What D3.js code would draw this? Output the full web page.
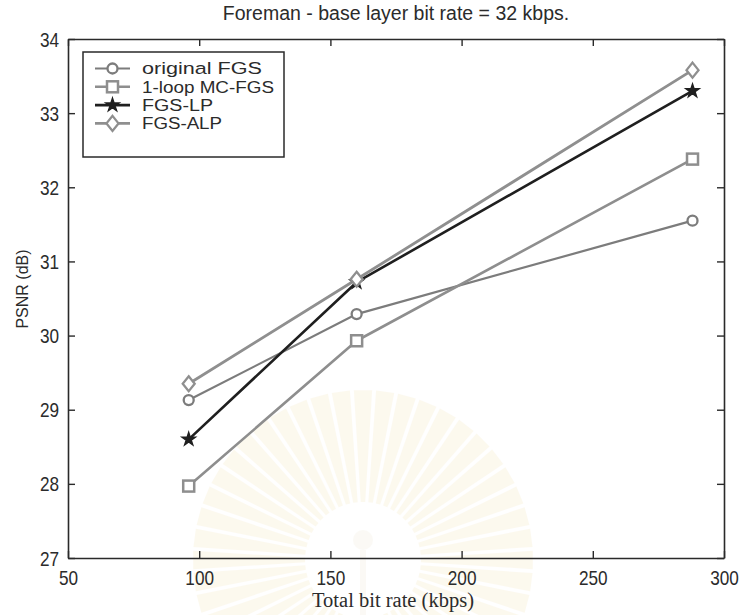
<!DOCTYPE html>
<html>
<head>
<meta charset="utf-8">
<script src="https://cdn.jsdelivr.net/npm/d3@7"></script>
<style>
  html, body { margin: 0; padding: 0; background: #fff; }
  svg { display: block; }
</style>
</head>
<body>
<svg id="chart" width="744" height="615"></svg>
<script>
// Total bit rate (kbps) at each operating point
const bitRates = [96, 160, 288];

// PSNR (dB) per scheme
const originalFGS = [29.13, 30.29, 31.55];
const mcFGS       = [27.97, 29.93, 32.38];
const fgsLP       = [28.60, 30.72, 33.30];
const fgsALP      = [29.35, 30.76, 33.58];

const seriesNames = ["original FGS", "1-loop MC-FGS", "FGS-LP", "FGS-ALP"];

const xTicks = [50, 100, 150, 200, 250, 300];
const yTicks = [27, 28, 29, 30, 31, 32, 33, 34];

const titleText = "Foreman - base layer bit rate = 32 kbps.";
const xLabel = "Total bit rate (kbps)";
const yLabel = "PSNR (dB)";

const series = [
  { name: seriesNames[0], values: originalFGS, color: "#7c7c7c", width: 2.2, marker: "circle" },
  { name: seriesNames[1], values: mcFGS,       color: "#8e8e8e", width: 2.6, marker: "square" },
  { name: seriesNames[2], values: fgsLP,       color: "#1f1f1f", width: 2.6, marker: "star" },
  { name: seriesNames[3], values: fgsALP,      color: "#8f8f8f", width: 2.8, marker: "diamond" }
];

const sans = "'Liberation Sans', Arial, sans-serif";
const textColor = "#2b2b2b";

const svg = d3.select("#chart");
const W = 744, H = 615;
const margin = { left: 68, right: 20, top: 39, bottom: 57 };
const plotL = margin.left, plotR = W - margin.right, plotT = margin.top, plotB = H - margin.bottom;

const x = d3.scaleLinear().domain([50, 300]).range([plotL, plotR]);
const y = d3.scaleLinear().domain([27, 34]).range([plotB, plotT]);

// faint emblem in the background
const emb = svg.append("g").attr("transform", "translate(363,560)").attr("opacity", 0.14);
const rays = d3.range(0, 360, 7.5);
emb.selectAll("path.ray").data(rays).join("path")
  .attr("class", "ray")
  .attr("d", d => {
    const a = (d - 90) * Math.PI / 180, w = 2.2 * Math.PI / 180;
    const r0 = 58, r1 = 170;
    return `M${r0*Math.cos(a-w)},${r0*Math.sin(a-w)}L${r1*Math.cos(a-w*1.4)},${r1*Math.sin(a-w*1.4)}L${r1*Math.cos(a+w*1.4)},${r1*Math.sin(a+w*1.4)}L${r0*Math.cos(a+w)},${r0*Math.sin(a+w)}Z`;
  })
  .attr("fill", "#f0d890");
emb.append("circle").attr("cx", 0).attr("cy", -20).attr("r", 10).attr("fill", "#e6dcc0");
emb.append("rect").attr("x", -3).attr("y", -10).attr("width", 6).attr("height", 70).attr("fill", "#e6dcc0");

// plot frame with inward ticks on all four sides
const axisColor = "#2a2a2a";
const tick = 7;
const squeeze = 0.86;

const gx = svg.append("g").attr("transform", `translate(0,${plotB})`)
  .call(d3.axisBottom(x).tickValues(xTicks).tickFormat(d3.format("d")).tickSize(-tick).tickSizeOuter(0).tickPadding(9));
const gxTop = svg.append("g").attr("transform", `translate(0,${plotT})`)
  .call(d3.axisTop(x).tickValues(xTicks).tickSize(-tick).tickSizeOuter(0).tickFormat(""));
const gy = svg.append("g").attr("transform", `translate(${plotL},0)`)
  .call(d3.axisLeft(y).tickValues(yTicks).tickFormat(d3.format("d")).tickSize(-tick).tickSizeOuter(0).tickPadding(9));
const gyR = svg.append("g").attr("transform", `translate(${plotR},0)`)
  .call(d3.axisRight(y).tickValues(yTicks).tickSize(-tick).tickSizeOuter(0).tickFormat(""));

[gx, gxTop, gy, gyR].forEach(g => {
  g.select(".domain").attr("stroke", axisColor).attr("stroke-width", 1.6);
  g.selectAll(".tick line").attr("stroke", axisColor).attr("stroke-width", 1.4);
  g.selectAll(".tick text")
    .attr("font-family", sans)
    .attr("font-size", 20)
    .attr("fill", textColor);
});
gx.selectAll(".tick text").attr("dy", "0.9em").attr("transform", `scale(${squeeze},1)`);
gy.selectAll(".tick text").attr("dy", "0.35em").attr("x", -9 / squeeze).attr("transform", `scale(${squeeze},1)`);

// lines
const line = d3.line().x((d, i) => x(bitRates[i])).y(d => y(d));
series.forEach(s => {
  svg.append("path")
    .datum(s.values)
    .attr("fill", "none")
    .attr("stroke", s.color)
    .attr("stroke-width", s.width)
    .attr("stroke-linejoin", "round")
    .attr("d", line);
});

// markers
function drawMarker(g, type, cx, cy, color) {
  if (type === "circle") {
    g.append("circle").attr("cx", cx).attr("cy", cy).attr("r", 5)
      .attr("fill", "#fff").attr("stroke", color).attr("stroke-width", 2.3);
  } else if (type === "square") {
    g.append("rect").attr("x", cx - 5.5).attr("y", cy - 5.5).attr("width", 11).attr("height", 11)
      .attr("fill", "#fff").attr("stroke", color).attr("stroke-width", 2.5);
  } else if (type === "diamond") {
    g.append("path").attr("d", `M${cx},${cy - 7.5}L${cx + 6},${cy}L${cx},${cy + 7.5}L${cx - 6},${cy}Z`)
      .attr("fill", "#fff").attr("stroke", color).attr("stroke-width", 2.3);
  } else if (type === "star") {
    g.append("path").attr("transform", `translate(${cx},${cy})`)
      .attr("d", d3.symbol().type(d3.symbolStar).size(55)())
      .attr("fill", color).attr("stroke", color).attr("stroke-width", 1.4);
  }
}
series.forEach(s => {
  const g = svg.append("g");
  s.values.forEach((v, i) => drawMarker(g, s.marker, x(bitRates[i]), y(v), s.color));
});

// legend
const lg = svg.append("g");
lg.append("rect").attr("x", 83).attr("y", 52).attr("width", 201).attr("height", 105)
  .attr("fill", "#fff").attr("stroke", axisColor).attr("stroke-width", 1.5);
series.forEach((s, i) => {
  const ly = 68.5 + i * 18.3;
  lg.append("line").attr("x1", 95).attr("x2", 130).attr("y1", ly).attr("y2", ly)
    .attr("stroke", s.color).attr("stroke-width", s.width);
  drawMarker(lg, s.marker, 112.5, ly, s.color);
  lg.append("text").attr("x", 142).attr("y", ly).attr("dy", "0.36em")
    .attr("font-family", sans)
    .attr("font-size", 16.3).attr("fill", textColor)
    .attr("textLength", [120, 132, 71, 80][i]).attr("lengthAdjust", "spacingAndGlyphs")
    .text(s.name);
});

// title and axis labels
svg.append("text")
  .attr("x", (plotL + plotR) / 2).attr("y", 20)
  .attr("text-anchor", "middle")
  .attr("font-family", sans).attr("font-size", 19.5).attr("fill", textColor)
  .text(titleText);

svg.append("text")
  .attr("x", 393).attr("y", 607)
  .attr("text-anchor", "middle")
  .attr("font-family", "'Liberation Serif', 'Times New Roman', serif")
  .attr("font-size", 20.5).attr("fill", textColor)
  .text(xLabel);

svg.append("text")
  .attr("transform", `translate(28,289) rotate(-90)`)
  .attr("text-anchor", "middle")
  .attr("font-family", sans).attr("font-size", 16).attr("fill", textColor)
  .text(yLabel);
</script>
</body>
</html>
